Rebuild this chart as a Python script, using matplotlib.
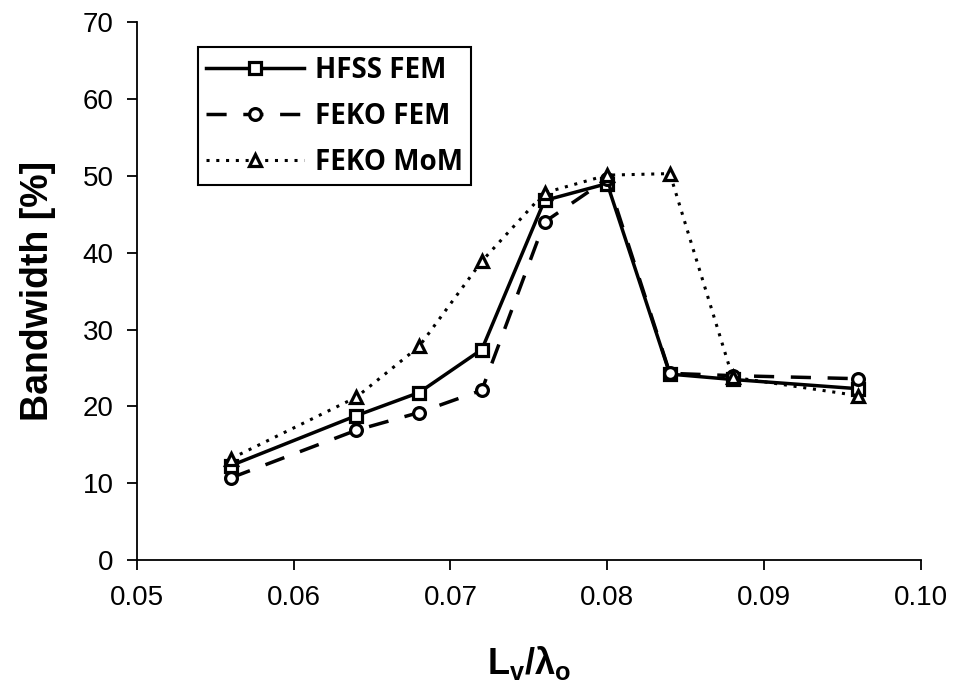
import matplotlib
matplotlib.use("Agg")
import matplotlib.pyplot as plt

plt.rcParams['font.family'] = ['Liberation Sans', 'DejaVu Sans']
plt.rcParams['mathtext.fontset'] = 'custom'
plt.rcParams['mathtext.rm'] = 'Liberation Sans'
plt.rcParams['mathtext.bf'] = 'Liberation Sans:bold'

# data
x_vals = [0.056, 0.064, 0.068, 0.072, 0.076, 0.080, 0.084, 0.088, 0.096]
hfss_fem = [12.3, 18.8, 21.8, 27.4, 46.8, 49.0, 24.2, 23.5, 22.3]
feko_fem = [10.7, 16.9, 19.2, 22.1, 44.0, 49.6, 24.3, 24.0, 23.6]
feko_mom = [13.2, 21.2, 27.8, 38.9, 47.8, 50.1, 50.3, 23.8, 21.4]

x_ticks = [0.05, 0.06, 0.07, 0.08, 0.09, 0.10]
x_ticklabels = ['0.05', '0.06', '0.07', '0.08', '0.09', '0.10']
y_ticks = [0, 10, 20, 30, 40, 50, 60, 70]

fig = plt.figure(figsize=(9.61, 6.96), dpi=100)
ax = fig.add_axes([0.1426, 0.1954, 0.8154, 0.7726])

mk = dict(markersize=8.5, markerfacecolor='white', markeredgecolor='black', markeredgewidth=2.3)
ax.plot(x_vals, hfss_fem, '-', color='black', lw=2.5, marker='s', label='HFSS FEM', **mk)
ax.plot(x_vals, feko_fem, color='black', lw=2.5, dashes=(5.8, 4.8), marker='o', label='FEKO FEM', **mk)
ax.plot(x_vals, feko_mom, color='black', lw=2.2, linestyle=(0, (1, 2.2)), marker='^', label='FEKO MoM', **mk)

ax.set_xlim(0.05, 0.10)
ax.set_ylim(0, 70)
ax.set_xticks(x_ticks)
ax.set_xticklabels(x_ticklabels)
ax.set_yticks(y_ticks)
ax.tick_params(direction='out', length=7, width=1.3, labelsize=20)
ax.tick_params(axis='x', pad=11)
ax.tick_params(axis='y', pad=10)
for s in ['top', 'right']:
    ax.spines[s].set_visible(False)
for s in ['left', 'bottom']:
    ax.spines[s].set_linewidth(1.3)

ax.set_ylabel('Bandwidth [%]', fontsize=27, fontweight='bold', labelpad=19)
ax.set_xlabel(r'$\mathbf{L_v/\lambda_o}$', fontsize=26, labelpad=24)

leg = ax.legend(loc='upper left', bbox_to_anchor=(0.078, 0.9535), fancybox=False,
                edgecolor='black', framealpha=1,
                prop={'weight': 'bold', 'size': 20, 'family': 'Open Sans'},
                handlelength=3.5, handletextpad=0.4, borderpad=0.3, labelspacing=0.62,
                borderaxespad=0)
leg.get_frame().set_linewidth(1.5)

fig.savefig('out.png', dpi=100)
